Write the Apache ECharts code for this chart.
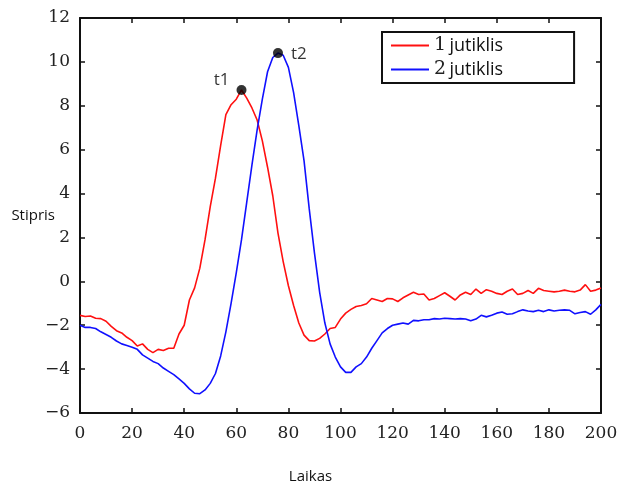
<!DOCTYPE html>
<html>
<head>
<meta charset="utf-8">
<script src="https://cdn.jsdelivr.net/npm/echarts@6/dist/echarts.min.js"></script>
<style>html,body{margin:0;padding:0;background:#fff}#c{width:617px;height:483px}</style>
</head>
<body>
<div id="c"></div>
<script>
// x values (Laikas), step 2
const laikas = [];
for (let i = 0; i <= 200; i += 2) laikas.push(i);

const jutiklis1 = [
  -1.55,-1.6,-1.58,-1.68,-1.7,-1.82,-2.05,-2.25,-2.35,-2.55,
  -2.7,-2.95,-2.85,-3.1,-3.25,-3.1,-3.15,-3.05,-3.05,-2.4,
  -2.0,-0.85,-0.3,0.6,1.9,3.4,4.7,6.2,7.6,8.05,
  8.3,8.72,8.35,7.9,7.35,6.4,5.2,3.9,2.2,0.9,
  -0.2,-1.1,-1.9,-2.45,-2.7,-2.72,-2.6,-2.4,-2.15,-2.1,
  -1.72,-1.45,-1.28,-1.15,-1.1,-1.02,-0.78,-0.85,-0.92,-0.78,
  -0.8,-0.92,-0.75,-0.62,-0.5,-0.6,-0.58,-0.85,-0.78,-0.65,
  -0.52,-0.68,-0.85,-0.62,-0.5,-0.6,-0.35,-0.55,-0.38,-0.45,
  -0.55,-0.6,-0.45,-0.35,-0.6,-0.55,-0.42,-0.55,-0.32,-0.42,
  -0.45,-0.48,-0.45,-0.4,-0.45,-0.48,-0.4,-0.15,-0.45,-0.4,
  -0.3
];

const jutiklis2 = [
  -2.0,-2.1,-2.1,-2.15,-2.3,-2.42,-2.55,-2.72,-2.85,-2.92,
  -3.0,-3.1,-3.35,-3.5,-3.65,-3.75,-3.95,-4.1,-4.25,-4.45,
  -4.65,-4.9,-5.1,-5.12,-4.95,-4.65,-4.2,-3.4,-2.3,-1.0,
  0.4,1.9,3.6,5.3,6.9,8.3,9.55,10.2,10.4,10.3,
  9.75,8.6,7.1,5.5,3.3,1.3,-0.5,-1.9,-2.85,-3.45,
  -3.9,-4.15,-4.15,-3.9,-3.75,-3.45,-3.05,-2.7,-2.35,-2.15,
  -2.0,-1.95,-1.9,-1.95,-1.78,-1.8,-1.75,-1.75,-1.7,-1.72,
  -1.68,-1.7,-1.72,-1.7,-1.72,-1.8,-1.72,-1.55,-1.62,-1.55,
  -1.45,-1.4,-1.5,-1.48,-1.38,-1.3,-1.35,-1.38,-1.32,-1.38,
  -1.3,-1.35,-1.32,-1.3,-1.32,-1.48,-1.42,-1.38,-1.5,-1.3,
  -1.05
];

const seriesNames = ['1 jutiklis', '2 jutiklis'];
const peakNames = ['t1', 't2'];
const peakX = [62, 76];
const peakY = [8.72, 10.4];

const xTicks = { min: 0, max: 200, interval: 20 };
const yTicks = { min: -6, max: 12, interval: 2 };

const serif = 'DejaVu Serif';
const sans = 'Open Sans';
const fmtNum = v => String(v).replace('-', '\u2212');

const axisCommon = {
  axisLine: { show: true, onZero: false, lineStyle: { color: '#111', width: 2 } },
  axisTick: { show: true, inside: true, length: 5, lineStyle: { color: '#111', width: 1.5 } },
  splitLine: { show: false }
};

const peakLabel = { show: true, formatter: '{b}', fontFamily: sans, fontSize: 17, color: '#000' };

const chart = echarts.init(document.getElementById('c'), null, { renderer: 'canvas' });
chart.setOption({
  animation: false,
  backgroundColor: '#fff',
  grid: { left: 80, top: 18, width: 521, height: 395, containLabel: false, outerBoundsMode: 'none' },
  legend: {
    data: seriesNames,
    orient: 'vertical',
    left: 382, top: 32,
    itemWidth: 38, itemHeight: 18, itemGap: 5,
    padding: [4, 71, 4, 8],
    borderColor: '#111', borderWidth: 2,
    backgroundColor: '#fff',
    itemStyle: { opacity: 0 },
    lineStyle: { width: 2 },
    formatter: n => { const p = n.split(' '); return '{n|' + p[0] + '} {t|' + p[1] + '}'; },
    textStyle: {
      rich: {
        n: { fontFamily: serif, fontSize: 19, color: '#222', lineHeight: 18 },
        t: { fontFamily: sans, fontSize: 18, color: '#111', lineHeight: 18 }
      }
    }
  },
  xAxis: [
    Object.assign({
      type: 'value', position: 'bottom', ...xTicks,
      name: 'Laikas', nameLocation: 'middle', nameGap: 56, nameMoveOverlap: false,
      nameTextStyle: { fontFamily: sans, fontSize: 15, color: '#111', padding: [0, 60, 0, 0] },
      axisLabel: { fontFamily: serif, fontSize: 17, color: '#222', margin: 12, formatter: fmtNum }
    }, axisCommon),
    Object.assign({
      type: 'value', position: 'top', ...xTicks,
      axisLabel: { show: false }
    }, axisCommon)
  ],
  yAxis: [
    Object.assign({
      type: 'value', position: 'left', ...yTicks,
      name: 'Stipris', nameLocation: 'middle', nameGap: 25, nameRotate: 0, nameMoveOverlap: false,
      nameTextStyle: { fontFamily: sans, fontSize: 15, color: '#111', padding: [16, 0, 0, 0] },
      axisLabel: { fontFamily: serif, fontSize: 17, color: '#222', margin: 10, formatter: fmtNum }
    }, axisCommon),
    Object.assign({
      type: 'value', position: 'right', ...yTicks,
      axisLabel: { show: false }
    }, axisCommon)
  ],
  series: [
    {
      name: seriesNames[0], type: 'line', showSymbol: false, symbol: 'none',
      data: laikas.map((x, i) => [x, jutiklis1[i]]),
      lineStyle: { color: '#ff1010', width: 1.6 }, itemStyle: { color: '#ff1010' },
      z: 3
    },
    {
      name: seriesNames[1], type: 'line', showSymbol: false, symbol: 'none',
      data: laikas.map((x, i) => [x, jutiklis2[i]]),
      lineStyle: { color: '#1010ff', width: 1.6 }, itemStyle: { color: '#1010ff' },
      z: 3
    },
    {
      name: 'peaks', type: 'scatter', symbolSize: 10,
      itemStyle: { color: '#000' }, z: 5,
      data: [
        { value: [peakX[0], peakY[0]], name: peakNames[0],
          label: Object.assign({ position: 'left', offset: [-1, -10], distance: 6 }, peakLabel) },
        { value: [peakX[1], peakY[1]], name: peakNames[1],
          label: Object.assign({ position: 'right', distance: 8, offset: [0, 1] }, peakLabel) }
      ]
    }
  ]
});
</script>
</body>
</html>
